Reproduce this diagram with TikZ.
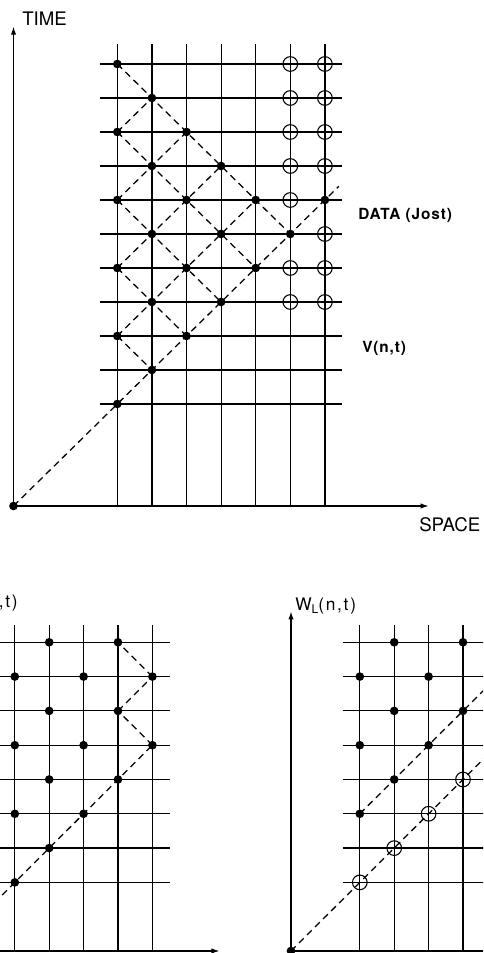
\documentclass[tikz,border=0pt]{standalone}
\usepackage{fontspec}
\setmainfont{TeX Gyre Heros}
\usetikzlibrary{arrows.meta}
\tikzset{
  gridln/.style={line width=0.9pt},
  axisln/.style={line width=0.9pt},
  arr/.style={-{Latex[length=6pt,width=4pt]}},
  dot/.style={circle,fill=black,inner sep=0pt,minimum size=6.5pt},
  ring/.style={circle,draw=black,line width=0.8pt,inner sep=0pt,minimum size=11pt},
  dashln/.style={line width=0.95pt,dash pattern=on 5pt off 3.5pt},
  biglbl/.style={inner sep=0pt,font=\fontsize{14}{16}\selectfont},
  boldlbl/.style={inner sep=0pt,font=\fontsize{11.5}{13}\selectfont\bfseries\addfontfeatures{LetterSpace=6}},
  wlbl/.style={inner sep=0pt,font=\fontsize{13}{15}\selectfont\addfontfeatures{LetterSpace=10}}
}
\begin{document}
\begin{tikzpicture}
\useasboundingbox (0,0) rectangle (362.25pt,714.75pt);
\clip (0,0) rectangle (362.25pt,714.75pt);

% ---------------- top panel ----------------
\begin{scope}[shift={(10.125pt,335.25pt)},x=25.95pt,y=25.5pt]
  \foreach \c in {3,...,9} \draw[gridln] (\c,0) -- (\c,13.6);
  \foreach \r in {3,...,13} \draw[gridln] (2.5,\r) -- (9.5,\r);
  \node[dot] (tO) at (0,0) {};
  \coordinate (tT) at (0,14.1);
  \coordinate (tS) at (12,0);
  \coordinate (tE) at (9.4,9.4);
  \draw[axisln,arr] (tO.center) -- (tT);
  \draw[axisln,arr] (tO.center) -- (tS);
  \foreach \c/\r in {3/3,4/4,3/5,5/5,4/6,6/6,3/7,5/7,7/7,4/8,6/8,8/8,
                     3/9,5/9,7/9,9/9,4/10,6/10,3/11,5/11,4/12,3/13}
    \node[dot] (t\c-\r) at (\c,\r) {};
  \foreach \c/\r in {8/6,8/7,8/9,8/10,8/11,8/12,8/13,
                     9/6,9/7,9/8,9/10,9/11,9/12,9/13}
    \node[ring] (tr\c-\r) at (\c,\r) {};
  \draw[dashln] (tO.center) -- (tE);
  \draw[dashln] (t3-13.center) -- (t8-8.center);
  \draw[dashln] (t3-11.center) -- (t7-7.center);
  \draw[dashln] (t3-9.center) -- (t6-6.center);
  \draw[dashln] (t3-7.center) -- (t5-5.center);
  \draw[dashln] (t3-5.center) -- (t4-4.center);
  \draw[dashln] (t3-11.center) -- (t4-12.center);
  \draw[dashln] (t3-9.center) -- (t5-11.center);
  \draw[dashln] (t3-7.center) -- (t6-10.center);
  \draw[dashln] (t3-5.center) -- (t7-9.center);
\end{scope}
\node[biglbl,anchor=west] (time) at (16.5pt,700.9pt) {TIME};
\node[biglbl,anchor=west] (space) at (314.25pt,321pt) {SPACE};
\node[boldlbl,anchor=west] (data) at (268.5pt,553.5pt) {DATA (Jost)};
\node[boldlbl,anchor=west] (vnt) at (271.5pt,453.5pt) {V(n,t)};

% ---------------- bottom left panel ----------------
\begin{scope}[shift={(-40.5pt,1.5pt)},x=25.8pt,y=25.725pt]
  \foreach \c in {2,...,6} \draw[gridln] (\c,0) -- (\c,9.5);
  \foreach \r in {2,...,9} \draw[gridln] (1.5,\r) -- (6.5,\r);
  \node[dot] (lO) at (0,0) {};
  \coordinate (lS) at (7.95,0);
  \coordinate (lT) at (0,9.9);
  \draw[axisln,arr] (lO.center) -- (lS);
  \draw[axisln,arr] (lO.center) -- (lT);
  \foreach \c/\r in {2/2,3/3,2/4,4/4,3/5,5/5,2/6,4/6,6/6,3/7,5/7,2/8,4/8,6/8,3/9,5/9}
    \node[dot] (l\c-\r) at (\c,\r) {};
  \draw[dashln] (lO.center) -- (l6-6.center);
  \draw[dashln] (l6-6.center) -- (l5-7.center);
  \draw[dashln] (l5-7.center) -- (l6-8.center);
  \draw[dashln] (l6-8.center) -- (l5-9.center);
\end{scope}
\node[wlbl,anchor=east] (wrl) at (13.5pt,262.5pt) {,t)};

% ---------------- bottom right panel ----------------
\begin{scope}[shift={(218.25pt,1.5pt)},x=25.8pt,y=25.725pt]
  \foreach \c in {2,...,6} \draw[gridln] (\c,0) -- (\c,9.5);
  \foreach \r in {2,...,9} \draw[gridln] (1.5,\r) -- (6.5,\r);
  \node[dot] (rO) at (0,0) {};
  \coordinate (rS) at (7.95,0);
  \coordinate (rT) at (0,9.9);
  \coordinate (rE1) at (7.5,7.5);
  \draw[axisln,arr] (rO.center) -- (rS);
  \draw[axisln,arr] (rO.center) -- (rT);
  \foreach \c/\r in {2/4,3/5,2/6,4/6,3/7,5/7,2/8,4/8,6/8,3/9,5/9,6/6}
    \node[dot] (r\c-\r) at (\c,\r) {};
  \foreach \c in {2,...,5}
    \node[ring] (rr\c) at (\c,\c) {};
  \draw[dashln] (rO.center) -- (rE1);
  \draw[dashln] (r2-4.center) -- (r6-8.center);
\end{scope}
\node[wlbl,anchor=west] (wl) at (221.25pt,260.5pt) {W\raisebox{-2.5pt}{\fontsize{9}{9}\selectfont L}(n,t)};
\end{tikzpicture}
\end{document}
